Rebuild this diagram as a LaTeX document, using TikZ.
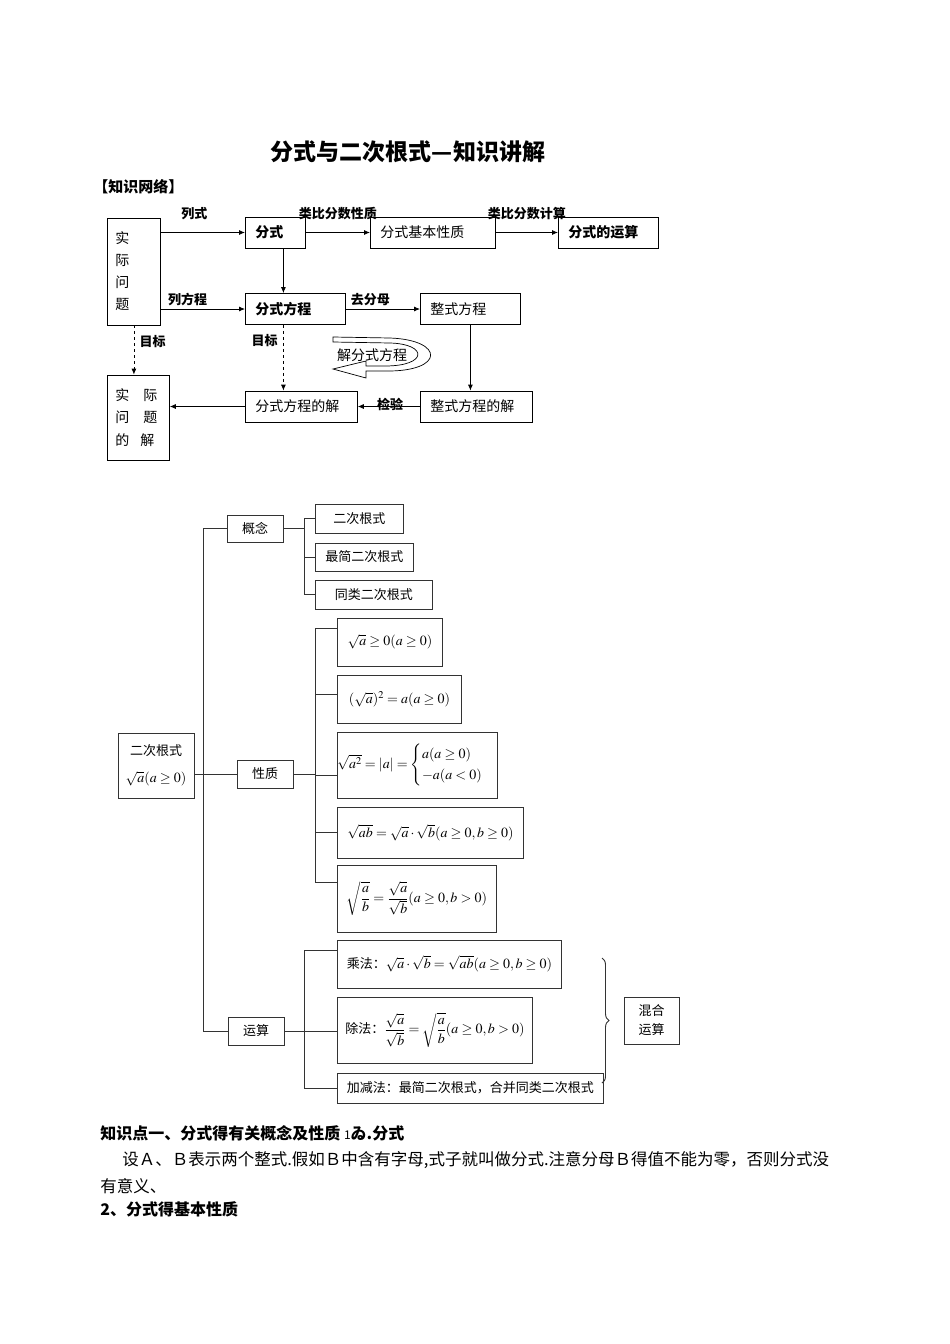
\documentclass[tikz,border=0pt]{standalone}
\usepackage{amsmath}
\usepackage{mathptmx}
\usepackage{fontspec}
\setmainfont{Noto Sans CJK SC}
\usetikzlibrary{arrows.meta,decorations.pathreplacing}
\newcommand\rmath[1]{{\fontsize{14}{17}\selectfont$#1$}}

\begin{document}
\begin{tikzpicture}[x=1pt, y=-1pt, >={Latex[length=6pt,width=5pt]},
  line width=0.8pt,
  every node/.style={font=\fontsize{14}{17}\selectfont},
  fbox/.style={draw, anchor=west, minimum height=31pt, inner xsep=10pt, align=left},
  lbl/.style={font=\fontsize{13}{15}\selectfont\bfseries},
  tbox/.style={draw=black!80, line width=0.9pt, inner sep=2pt, align=center,
    font=\fontsize{13}{16}\selectfont},
  leaf/.style={tbox, anchor=west},
  txt/.style={anchor=west, inner sep=0pt}]
  \useasboundingbox (0,0) rectangle (950,1344);

  % title
  \node[font=\fontsize{23}{26}\selectfont\bfseries] (title) at (408,152) {分式与二次根式—知识讲解};
  \node[txt, font=\fontsize{15}{18}\selectfont\bfseries] (net) at (93,187) {【知识网络】};

  % flow chart
  \node[fbox, text width=37pt, inner xsep=8pt, minimum height=107pt,
    font=\fontsize{14}{22}\selectfont] (real) at (107,271.5) {实\\际\\问\\题};
  \node[fbox, text width=40pt, font=\fontsize{14}{17}\selectfont\bfseries] (fs) at (245,232.5) {分式};
  \node[fbox, text width=105pt] (fsxz) at (370,232.5) {分式基本性质};
  \node[fbox, text width=80pt, font=\fontsize{14}{17}\selectfont\bfseries] (fsys) at (558,232.5) {分式的运算};
  \node[fbox, text width=80pt, font=\fontsize{14}{17}\selectfont\bfseries] (fsfc) at (245,309) {分式方程};
  \node[fbox, text width=80pt] (zsfc) at (420,309) {整式方程};
  \node[fbox, text width=92pt] (fsj) at (245,406.5) {分式方程的解};
  \node[fbox, text width=92pt] (zsj) at (420,406.5) {整式方程的解};
  \node[fbox, text width=46pt, inner xsep=8pt, minimum height=85pt,
    font=\fontsize{14}{22.5}\selectfont] (sjj) at (107,417.5)
    {实\hspace{14pt}际\\问\hspace{14pt}题\\的\hspace{11pt}解};

  \draw[->] (real.east |- fs.west) -- node[lbl, above=9pt, pos=.4] {列式} (fs.west);
  \draw[->] (fs) -- node[lbl, above=9pt] {类比分数性质} (fsxz);
  \draw[->] (fsxz) -- node[lbl, above=9pt] {类比分数计算} (fsys);
  \draw[->] ([xshift=8pt]fs.south) -- ([xshift=8pt]fs.south |- fsfc.north);
  \draw[->] (real.east |- fsfc.west) -- node[lbl, above=-1pt, pos=.32] {列方程} (fsfc.west);
  \draw[->] (fsfc) -- node[lbl, above=-1pt, pos=.33] {去分母} (zsfc);
  \draw[->] (zsfc.south) -- (zsfc.south |- zsj.north);
  \draw[->] (zsj) -- node[lbl, above=-8pt, pos=.48] {检验} (fsj);
  \draw[->] (fsj.west) -- (fsj.west -| sjj.east);
  \draw[->, dashed] (real.south) -- node[lbl, right=2pt, pos=.32] {目标} (real.south |- sjj.north);
  \draw[->, dashed] ([xshift=-12pt]fsfc.south) -- node[lbl, left=2pt, pos=.24] {目标}
    ([xshift=-12pt]fsfc.south |- fsj.north);

  % hollow turning arrow
  \draw[line width=0.7pt] (333,337) -- (390,338) .. controls (445,340) and (445,372) .. (385,371)
    -- (366,371) -- (366,378) -- (333,369) -- (366,361) -- (366,366) -- (385,366)
    .. controls (428,366) and (428,344) .. (390,343) -- (333,342) -- cycle;
  \node (jff) at (372,355) {解分式方程};

  % tree of radicals
  \node[tbox, minimum width=76pt, minimum height=65pt] (root) at (156,765.5)
    {二次根式\\[11pt]\rmath{\sqrt{a}(a\ge0)}};
  \node[tbox, minimum width=56pt, minimum height=27pt] (gn) at (255,528.5) {概念};
  \node[tbox, minimum width=56pt, minimum height=28pt] (xz) at (265,774) {性质};
  \node[tbox, minimum width=56pt, minimum height=28pt] (ys) at (256,1031) {运算};

  \node[leaf, minimum width=88pt, minimum height=29pt] (l1) at (315,518.5) {二次根式};
  \node[leaf, minimum width=98pt, minimum height=28pt] (l2) at (315,557) {最简二次根式};
  \node[leaf, minimum width=117pt, minimum height=29pt] (l3) at (315,594.5) {同类二次根式};

  \node[leaf, minimum width=105pt, minimum height=48pt] (p1) at (337,642) {\rmath{\sqrt{a}\ge0(a\ge0)}};
  \node[leaf, minimum width=124pt, minimum height=48pt] (p2) at (337,699) {\rmath{(\sqrt{a})^2=a(a\ge0)}};
  \node[leaf, minimum width=159pt, minimum height=66pt, inner xsep=0pt] (p3) at (337,765)
    {\rmath{\sqrt{a^2}=|a|=\begin{cases}a(a\ge0)\\-a(a<0)\end{cases}}};
  \node[leaf, minimum width=186pt, minimum height=51pt] (p4) at (337,832.5)
    {\rmath{\sqrt{ab}=\sqrt{a}\cdot\sqrt{b}(a\ge0,b\ge0)}};
  \node[leaf, minimum width=159pt, minimum height=67pt] (p5) at (337,898.5)
    {\rmath{\sqrt{\dfrac{a}{b}}=\dfrac{\sqrt{a}}{\sqrt{b}}(a\ge0,b>0)}};

  \node[leaf, minimum width=224pt, minimum height=48pt] (o1) at (337,964)
    {乘法：\rmath{\sqrt{a}\cdot\sqrt{b}=\sqrt{ab}(a\ge0,b\ge0)}};
  \node[leaf, minimum width=195pt, minimum height=66pt] (o2) at (337,1030)
    {除法：\rmath{\dfrac{\sqrt{a}}{\sqrt{b}}=\sqrt{\dfrac{a}{b}}(a\ge0,b>0)}};
  \node[leaf, minimum width=266pt, minimum height=30pt] (o3) at (337,1088)
    {加减法：最简二次根式，合并同类二次根式};
  \node[tbox, minimum width=55pt, minimum height=47pt, align=left,
    font=\fontsize{13}{19}\selectfont] (mix) at (651.5,1020.5) {混合\\运算};

  \draw[black!80, line width=0.9pt] (gn.west) -- ++(-23,0) |- (ys.west);
  \draw[black!80, line width=0.9pt] (root.east |- xz.west) -- (xz.west);
  \draw[black!80, line width=0.9pt] (gn.east) -- ++(21,0);
  \draw[black!80, line width=0.9pt] (l1.west) -- ++(-11,0) |- (l3.west);
  \draw[black!80, line width=0.9pt] (l2.west) -- ++(-11,0);
  \draw[black!80, line width=0.9pt] (xz.east) -- ++(22,0);
  \draw[black!80, line width=0.9pt] ([yshift=14pt]p1.west) -- ++(-22,0) |- ([yshift=16pt]p5.west);
  \draw[black!80, line width=0.9pt] ([yshift=5pt]p2.west) -- ++(-22,0);
  \draw[black!80, line width=0.9pt] ([yshift=-10pt]p3.west) -- ++(-22,0);
  \draw[black!80, line width=0.9pt] (p4.west) -- ++(-22,0);
  \draw[black!80, line width=0.9pt] (ys.east) -- (ys.east -| o2.west);
  \draw[black!80, line width=0.9pt] ([yshift=14pt]o1.west) -- ++(-33,0) |- (o3.west);
  \draw[black!80, line width=0.9pt, decorate, decoration={brace, amplitude=7pt}]
    (602,958) -- (602,1083);

  % text below
  \node[txt, font=\fontsize{16}{19}\selectfont\bfseries] (k1) at (100,1133)
    {知识点一、分式得有关概念及性质 {\mdseries\fontsize{12}{14}\selectfont 1}ゐ.分式};
  \node[txt, font=\fontsize{16.5}{19}\selectfont] (k2) at (122,1160)
    {设Ａ、Ｂ表示两个整式.假如Ｂ中含有字母,式子就叫做分式.注意分母Ｂ得值不能为零，否则分式没};
  \node[txt, font=\fontsize{16.5}{19}\selectfont] (k3) at (100,1186) {有意义、};
  \node[txt, font=\fontsize{16}{19}\selectfont\bfseries] (k4) at (100,1209) {2、分式得基本性质};
\end{tikzpicture}
\end{document}
